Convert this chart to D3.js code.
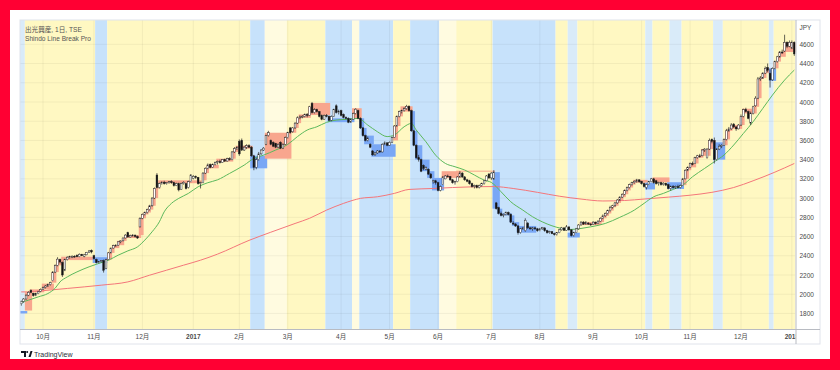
<!DOCTYPE html>
<html>
<head>
<meta charset="utf-8">
<script src="https://cdn.jsdelivr.net/npm/d3@7"></script>
<style>
html, body { margin: 0; padding: 0; background: #ff0033; }
svg { display: block; }
text { font-family: "Liberation Sans", Arial, sans-serif; }
</style>
</head>
<body>
<svg id="chart" width="840" height="370"></svg>
<script>
// daily candles, 出光興産 (TSE), Sep 2016 - Jan 2018, one entry per trading day
var opens = [
  1900,1925,1950,1990,2040,2010,1990,2005,2030,2050,
  2070,2085,2100,2140,2230,2300,2360,2330,2250,2360,
  2385,2385,2395,2405,2390,2415,2395,2410,2435,2455,
  2400,2360,2330,2340,2350,2270,2360,2430,2480,2505,
  2510,2545,2555,2585,2640,2595,2610,2615,2600,2700,
  2790,2830,2850,2880,2920,3000,3240,3110,3150,3165,
  3150,3160,3170,3160,3130,3150,3090,3150,3150,3110,
  3170,3205,3225,3215,3150,3160,3260,3310,3350,3320,
  3350,3370,3380,3370,3400,3385,3410,3400,3480,3515,
  3590,3600,3500,3530,3545,3530,3440,3320,3400,3460,
  3500,3560,3650,3600,3580,3570,3530,3580,3520,3560,
  3630,3730,3690,3730,3780,3835,3845,3850,3870,3860,
  3985,3890,3920,3900,3860,3820,3860,3850,3810,3850,
  3960,3890,3910,3870,3840,3830,3790,3820,3880,3910,
  3830,3730,3650,3600,3560,3490,3450,3470,3490,3480,
  3560,3575,3550,3580,3630,3750,3850,3900,3910,3930,
  3955,3910,3700,3550,3420,3400,3340,3300,3300,3250,
  3170,3180,3160,3080,3140,3200,3230,3225,3190,3160,
  3170,3220,3260,3220,3190,3180,3150,3120,3130,3110,
  3130,3150,3180,3250,3210,3200,2950,2900,2840,2820,
  2830,2850,2830,2740,2730,2710,2640,2680,2660,2740,
  2690,2680,2690,2680,2660,2680,2690,2660,2640,2650,
  2630,2620,2640,2670,2690,2665,2700,2670,2610,2640,
  2680,2720,2750,2730,2740,2730,2725,2750,2735,2760,
  2790,2815,2840,2870,2905,2920,2950,2980,3010,3040,
  3080,3110,3140,3160,3175,3190,3175,3150,3110,3140,
  3170,3200,3180,3150,3160,3140,3155,3140,3100,3120,
  3110,3120,3110,3130,3200,3290,3320,3360,3360,3420,
  3440,3440,3500,3420,3510,3610,3600,3400,3510,3540,
  3550,3610,3700,3720,3770,3740,3720,3760,3850,3920,
  3900,3780,3880,3960,4040,4240,4250,4300,4360,4300,
  4230,4350,4420,4470,4520,4530,4620,4580,4560,4620
];
var highs = [
  1935,1960,2000,2030,2050,2015,2015,2035,2060,2080,
  2095,2110,2130,2240,2310,2385,2370,2340,2370,2395,
  2400,2405,2405,2415,2425,2420,2420,2440,2460,2465,
  2410,2370,2345,2355,2360,2370,2440,2485,2515,2520,
  2550,2560,2590,2625,2650,2620,2625,2620,2610,2800,
  2840,2860,2890,2930,3010,3110,3260,3160,3175,3180,
  3165,3175,3185,3170,3160,3160,3160,3175,3160,3180,
  3250,3240,3235,3220,3170,3270,3320,3360,3360,3360,
  3380,3390,3400,3405,3410,3420,3425,3490,3530,3540,
  3610,3620,3545,3560,3560,3540,3450,3420,3480,3510,
  3530,3660,3700,3610,3590,3575,3570,3590,3570,3640,
  3690,3740,3740,3790,3850,3860,3865,3880,3885,3960,
  4000,3935,3930,3905,3870,3870,3875,3860,3860,3930,
  3975,3920,3920,3880,3850,3840,3830,3890,3935,3920,
  3840,3740,3660,3640,3570,3500,3480,3500,3500,3570,
  3590,3580,3590,3640,3760,3860,3910,3920,3945,3970,
  3965,3920,3710,3560,3450,3410,3350,3330,3310,3260,
  3190,3190,3170,3130,3230,3240,3245,3230,3200,3180,
  3230,3280,3270,3230,3200,3190,3160,3140,3140,3140,
  3160,3190,3240,3260,3270,3290,2960,2910,2860,2840,
  2860,2860,2840,2760,2740,2720,2690,2700,2790,2750,
  2700,2700,2700,2690,2690,2700,2695,2670,2660,2655,
  2640,2645,2680,2700,2695,2720,2705,2675,2650,2690,
  2730,2760,2760,2760,2750,2740,2760,2755,2770,2800,
  2830,2850,2880,2920,2930,2960,2990,3020,3050,3090,
  3120,3150,3170,3185,3200,3195,3180,3160,3150,3180,
  3210,3210,3190,3170,3170,3165,3160,3150,3130,3135,
  3130,3140,3140,3210,3300,3330,3370,3380,3430,3450,
  3460,3510,3520,3520,3620,3620,3630,3520,3560,3560,
  3620,3720,3740,3780,3780,3750,3770,3870,3930,3940,
  3910,3900,3960,4060,4260,4270,4310,4370,4400,4340,
  4360,4430,4480,4530,4545,4700,4630,4640,4640,4630
];
var lows = [
  1880,1910,1945,1980,2010,1975,1980,2000,2020,2045,
  2060,2075,2090,2135,2220,2290,2320,2180,2240,2350,
  2370,2375,2380,2385,2385,2395,2385,2405,2430,2425,
  2360,2320,2320,2330,2225,2260,2355,2425,2475,2495,
  2505,2530,2550,2580,2590,2590,2600,2590,2575,2695,
  2780,2820,2840,2870,2910,2990,3100,3100,3140,3140,
  3140,3150,3150,3120,3125,3070,3085,3140,3090,3100,
  3165,3195,3200,3140,3100,3155,3250,3300,3310,3315,
  3340,3350,3360,3365,3375,3380,3390,3395,3470,3500,
  3440,3490,3490,3510,3520,3430,3290,3300,3390,3450,
  3490,3550,3640,3550,3530,3520,3520,3510,3510,3555,
  3620,3670,3680,3720,3770,3820,3830,3840,3840,3855,
  3880,3880,3890,3840,3810,3815,3840,3800,3800,3845,
  3880,3870,3850,3830,3820,3780,3785,3815,3870,3820,
  3720,3640,3590,3590,3520,3440,3440,3460,3470,3475,
  3550,3540,3545,3575,3625,3745,3840,3880,3900,3920,
  3900,3690,3540,3410,3380,3270,3290,3290,3240,3200,
  3150,3140,3070,3070,3135,3195,3215,3180,3150,3140,
  3165,3215,3210,3180,3165,3140,3110,3100,3100,3100,
  3120,3140,3175,3200,3190,3190,2880,2830,2810,2800,
  2820,2820,2740,2720,2700,2620,2630,2670,2650,2680,
  2670,2660,2670,2650,2655,2670,2650,2630,2630,2625,
  2610,2610,2635,2660,2660,2660,2660,2600,2600,2635,
  2670,2715,2720,2725,2720,2710,2720,2725,2730,2755,
  2780,2805,2830,2860,2890,2910,2940,2970,3000,3030,
  3070,3100,3130,3150,3160,3160,3140,3110,3090,3135,
  3165,3150,3140,3130,3130,3130,3125,3090,3080,3100,
  3095,3100,3100,3125,3195,3280,3310,3340,3355,3410,
  3420,3435,3480,3410,3500,3570,3360,3390,3500,3520,
  3545,3600,3690,3710,3730,3700,3715,3750,3840,3890,
  3820,3760,3870,3950,4030,4220,4240,4290,4310,4150,
  4220,4340,4410,4460,4500,4520,4560,4570,4550,4480
];
var closes = [
  1925,1950,1990,2020,2020,1985,2005,2025,2050,2070,
  2085,2100,2120,2230,2300,2365,2335,2200,2360,2385,
  2390,2395,2390,2390,2415,2400,2410,2435,2450,2440,
  2370,2330,2340,2350,2250,2360,2430,2480,2505,2510,
  2545,2555,2585,2615,2595,2610,2615,2600,2585,2790,
  2830,2850,2880,2920,3000,3100,3110,3150,3165,3150,
  3160,3170,3160,3130,3150,3085,3150,3165,3100,3170,
  3240,3225,3215,3150,3160,3260,3310,3345,3320,3350,
  3370,3380,3370,3400,3385,3410,3400,3480,3515,3525,
  3460,3500,3530,3545,3530,3440,3320,3400,3460,3500,
  3520,3650,3680,3560,3540,3530,3560,3520,3560,3630,
  3680,3680,3730,3780,3835,3845,3850,3870,3860,3950,
  3890,3920,3900,3850,3820,3860,3850,3810,3850,3920,
  3890,3900,3860,3840,3830,3790,3820,3880,3925,3830,
  3730,3650,3600,3620,3530,3450,3470,3490,3480,3560,
  3575,3550,3580,3630,3750,3850,3900,3910,3930,3955,
  3910,3700,3550,3420,3400,3280,3310,3320,3250,3210,
  3180,3160,3080,3120,3220,3230,3225,3190,3160,3170,
  3220,3260,3220,3190,3175,3150,3120,3130,3110,3130,
  3150,3180,3230,3210,3260,3270,2890,2840,2820,2830,
  2850,2830,2750,2730,2710,2640,2680,2690,2770,2690,
  2680,2690,2680,2660,2680,2695,2660,2640,2650,2630,
  2620,2640,2670,2690,2665,2700,2670,2610,2640,2680,
  2720,2750,2730,2750,2730,2725,2750,2735,2760,2790,
  2815,2840,2870,2905,2920,2950,2980,3010,3040,3080,
  3110,3140,3160,3175,3190,3170,3150,3120,3140,3170,
  3200,3160,3150,3160,3140,3155,3135,3100,3120,3110,
  3120,3110,3130,3200,3290,3320,3360,3350,3420,3440,
  3430,3500,3510,3510,3600,3590,3400,3510,3540,3550,
  3610,3700,3720,3760,3740,3720,3760,3850,3920,3900,
  3830,3880,3950,4040,4240,4250,4300,4350,4330,4230,
  4350,4420,4470,4520,4510,4620,4580,4620,4620,4500
];

// moving averages: [candle index, value]
var maFast = [
  [0,1915],[3,1938],[7,1972],[11,2007],[14,2062],[16,2128],[19,2180],[23,2232],
  [28,2285],[32,2320],[36,2354],[40,2406],[44,2451],[48,2493],[51,2563],[54,2649],
  [57,2753],[59,2857],[62,2945],[65,2997],[69,3049],[73,3118],[77,3160],[81,3190],
  [86,3257],[92,3343],[96,3413],[100,3447],[105,3500],[110,3559],[114,3640],[118,3708],
  [122,3742],[126,3788],[130,3812],[134,3819],[139,3829],[143,3760],[147,3690],[151,3640],
  [154,3657],[158,3742],[161,3777],[163,3708],[167,3586],[171,3447],[175,3361],[179,3326],
  [183,3292],[187,3240],[191,3187],[194,3163],[198,3066],[202,2962],[207,2875],[211,2806],
  [215,2753],[219,2712],[223,2684],[227,2674],[231,2684],[235,2701],[241,2736],[247,2800],
  [253,2875],[257,2945],[261,3014],[265,3049],[269,3090],[273,3135],[277,3222],[282,3309],
  [286,3378],[290,3448],[294,3552],[298,3673],[302,3794],[306,3933],[310,4072],[315,4228],
  [319,4332]
];
var maSlow = [
  [0,2024],[4,2024],[7,2032],[19,2060],[33,2094],[44,2128],[53,2198],[60,2250],
  [67,2302],[74,2354],[81,2417],[94,2560],[103,2645],[113,2736],[119,2790],[126,2875],
  [133,2945],[140,2997],[147,3014],[154,3049],[160,3090],[170,3100],[178,3110],[187,3118],
  [195,3120],[203,3100],[213,3060],[222,3020],[231,2990],[240,2970],[249,2975],[257,2990],
  [267,3010],[276,3030],[285,3060],[294,3110],[302,3180],[311,3270],[319,3360]
];

// background state bands: [first index, last index, kind]
var bands = [
  [0,1,"L"],[2,30,"Y"],[31,35,"B"],[36,94,"Y"],[95,100,"B"],[101,109,"C"],
  [110,125,"Y"],[126,136,"B"],[137,139,"C"],[140,153,"B"],[154,160,"Y"],
  [161,172,"B"],[173,179,"C"],[180,194,"Y"],[195,220,"B"],[221,225,"Y"],
  [226,229,"L"],[230,257,"Y"],[258,260,"L"],[261,267,"Y"],[268,272,"L"],
  [273,285,"Y"],[286,289,"L"],[290,308,"Y"],[309,310,"L"],[311,319,"Y"]
];

// line break boxes: [first index, last index, low, high, direction]
var boxes = [
  [0,1,1800,1825,-1],[2,3,1830,2020,1],[4,8,2020,2050,1],[9,12,2050,2110,1],
  [13,13,2120,2230,1],[14,14,2230,2300,1],[15,16,2300,2365,1],[17,29,2355,2390,1],
  [30,34,2325,2385,-1],[35,35,2350,2360,1],[36,36,2360,2430,1],[37,37,2430,2480,1],
  [38,39,2480,2510,1],[40,41,2510,2555,1],[42,42,2555,2585,1],[43,48,2585,2615,1],
  [49,49,2615,2790,1],[50,50,2790,2830,1],[51,51,2830,2850,1],[52,52,2850,2880,1],
  [53,53,2880,2920,1],[54,54,2920,3000,1],[55,55,3000,3100,1],[56,56,3100,3110,1],
  [57,73,3155,3185,1],[75,75,3185,3260,1],[76,76,3260,3310,1],[77,80,3310,3345,1],
  [81,86,3380,3410,1],[87,87,3410,3480,1],[88,88,3480,3515,1],[89,94,3515,3545,1],
  [95,100,3310,3440,-1],[101,110,3410,3680,1],[112,112,3680,3730,1],[113,113,3730,3780,1],
  [114,114,3780,3835,1],[115,118,3835,3870,1],[119,119,3870,3950,1],[120,126,3865,3990,1],
  [127,136,3790,3830,-1],[137,139,3830,3935,1],[140,140,3730,3830,-1],[141,141,3650,3730,-1],
  [142,144,3560,3650,-1],[145,153,3430,3560,-1],[154,154,3600,3750,1],[155,155,3750,3850,1],
  [156,156,3850,3900,1],[157,160,3900,3955,1],[161,161,3700,3905,-1],[162,162,3550,3700,-1],
  [163,164,3400,3550,-1],[165,167,3280,3400,-1],[168,169,3210,3280,-1],[170,173,3080,3210,-1],
  [174,180,3210,3280,1],[195,196,2890,3270,-1],[197,197,2840,2890,-1],[198,201,2820,2840,-1],
  [202,202,2750,2820,-1],[203,204,2710,2750,-1],[205,211,2640,2710,-1],[226,229,2590,2640,-1],
  [231,238,2720,2750,1],[239,239,2750,2790,1],[240,240,2790,2815,1],[241,241,2815,2840,1],
  [242,242,2840,2870,1],[243,243,2870,2905,1],[244,244,2905,2920,1],[245,245,2920,2950,1],
  [246,246,2950,2980,1],[247,247,2980,3010,1],[248,248,3010,3040,1],[249,249,3040,3080,1],
  [250,250,3080,3110,1],[251,251,3110,3140,1],[252,252,3140,3160,1],[253,257,3160,3190,1],
  [258,260,3090,3160,-1],[261,266,3165,3215,1],[267,272,3095,3165,-1],[273,273,3135,3200,1],
  [274,274,3200,3290,1],[275,275,3290,3320,1],[276,277,3320,3360,1],[278,278,3360,3420,1],
  [279,280,3420,3440,1],[281,283,3440,3510,1],[284,285,3510,3600,1],[286,289,3400,3580,-1],
  [290,290,3550,3610,1],[291,291,3610,3700,1],[292,292,3700,3720,1],[293,296,3720,3760,1],
  [297,297,3760,3850,1],[298,301,3880,3930,1],[302,302,3880,3950,1],[303,303,3950,4040,1],
  [304,304,4040,4240,1],[305,305,4240,4250,1],[306,306,4250,4300,1],[307,308,4300,4350,1],
  [309,310,4220,4350,-1],[311,311,4350,4420,1],[312,312,4420,4470,1],[313,314,4470,4520,1],
  [315,319,4520,4620,1]
];
var boxLines = [[180,195,3280]];

var monthTicks = [9,30,50,71,90,110,132,152,172,194,214,236,256,276,297,318];
var monthLabels = ["10月","11月","12月","2017","2月","3月","4月","5月","6月","7月","8月","9月","10月","11月","12月","2018"];
var priceTicks = [1800,2000,2200,2400,2600,2800,3000,3200,3400,3600,3800,4000,4200,4400,4600];

var N = closes.length;
var W = 840, H = 370;
var plotL = 20, plotT = 20, plotR = 795.5, plotB = 329;
var bandColor = {Y: "#fff8c2", B: "#c7e2fb", L: "#d9ebf9", C: "#fffbe0"};

var svg = d3.select("#chart");
svg.append("rect").attr("width", W).attr("height", H).attr("fill", "#ff0033");
svg.append("rect").attr("x", 10).attr("y", 10).attr("width", 820).attr("height", 349).attr("fill", "#fff");

var x = d3.scaleBand().domain(d3.range(N)).range([plotL, plotR]).padding(0);
var y = d3.scaleLinear().domain([1638, 4853]).range([plotB, plotT]);
var bw = x.bandwidth();
var cx = function(i) { return x(i) + bw / 2; };

var defs = svg.append("defs");
defs.append("clipPath").attr("id", "plotclip")
  .append("rect").attr("x", plotL).attr("y", plotT).attr("width", plotR - plotL).attr("height", plotB - plotT);
defs.append("clipPath").attr("id", "xclip")
  .append("rect").attr("x", plotL).attr("y", plotB).attr("width", plotR - plotL).attr("height", 15);

var plot = svg.append("g").attr("clip-path", "url(#plotclip)");

plot.selectAll("rect.band").data(bands).enter().append("rect")
  .attr("class", "band")
  .attr("x", function(d) { return x(d[0]); })
  .attr("width", function(d) { return x(d[1]) + bw - x(d[0]); })
  .attr("y", plotT).attr("height", plotB - plotT)
  .attr("fill", function(d) { return bandColor[d[2]]; });

// grid
plot.selectAll("line.hgrid").data(priceTicks).enter().append("line")
  .attr("x1", plotL).attr("x2", plotR)
  .attr("y1", function(d) { return y(d); }).attr("y2", function(d) { return y(d); })
  .attr("stroke", "#000").attr("stroke-opacity", 0.05);
plot.selectAll("line.vgrid").data(monthTicks).enter().append("line")
  .attr("x1", cx).attr("x2", cx).attr("y1", plotT).attr("y2", plotB)
  .attr("stroke", "#000").attr("stroke-opacity", 0.05);

// each box reaches one bar past its last candle
plot.selectAll("rect.box").data(boxes).enter().append("rect")
  .attr("x", function(d) { return x(d[0]); })
  .attr("width", function(d) { return x(d[1]) + 2 * bw - x(d[0]); })
  .attr("y", function(d) { return y(d[3]); })
  .attr("height", function(d) { return y(d[2]) - y(d[3]); })
  .attr("fill", function(d) { return d[4] > 0 ? "#f8a68e" : "#79a7f5"; });

plot.selectAll("line.boxline").data(boxLines).enter().append("line")
  .attr("x1", function(d) { return x(d[0]); }).attr("x2", function(d) { return x(d[1]) + bw; })
  .attr("y1", function(d) { return y(d[2]); }).attr("y2", function(d) { return y(d[2]); })
  .attr("stroke", "#f8a68e").attr("stroke-width", 1);

var line = d3.line()
  .x(function(d) { return cx(d[0]); })
  .y(function(d) { return y(d[1]); })
  .curve(d3.curveMonotoneX);

plot.append("path").datum(maSlow).attr("d", line)
  .attr("fill", "none").attr("stroke", "#f4767a").attr("stroke-width", 1);
plot.append("path").datum(maFast).attr("d", line)
  .attr("fill", "none").attr("stroke", "#5cb85c").attr("stroke-width", 1);

var candles = plot.selectAll("g.candle").data(d3.range(N)).enter().append("g");
candles.append("line")
  .attr("x1", cx).attr("x2", cx)
  .attr("y1", function(i) { return y(highs[i]); })
  .attr("y2", function(i) { return y(lows[i]); })
  .attr("stroke", "#222").attr("stroke-width", 0.7);
candles.append("rect")
  .attr("x", function(i) { return cx(i) - bw * 0.36; })
  .attr("width", bw * 0.72)
  .attr("y", function(i) { return y(Math.max(opens[i], closes[i])); })
  .attr("height", function(i) { return Math.max(0.8, Math.abs(y(opens[i]) - y(closes[i]))); })
  .attr("fill", function(i) { return closes[i] >= opens[i] ? "#fff" : "#111"; })
  .attr("stroke", "#222").attr("stroke-width", 0.45);

// frame and axes lines
svg.append("rect").attr("x", plotL).attr("y", plotT).attr("width", 800).attr("height", 324)
  .attr("fill", "none").attr("stroke", "#e0e3eb").attr("stroke-width", 1);
svg.append("line").attr("x1", plotL).attr("x2", 820).attr("y1", plotB + 0.5).attr("y2", plotB + 0.5)
  .attr("stroke", "#b8bbc2");
svg.append("line").attr("x1", plotR + 0.5).attr("x2", plotR + 0.5).attr("y1", plotT).attr("y2", 344)
  .attr("stroke", "#b8bbc2");

var yAxis = svg.append("g").attr("transform", "translate(" + (plotR + 0.5) + ",0)")
  .call(d3.axisRight(y).tickValues(priceTicks).tickFormat(d3.format("d"))
    .tickSize(0).tickPadding(3.5));
yAxis.select(".domain").remove();
yAxis.selectAll("text").attr("font-size", 6.5).attr("fill", "#4a4a4a")
  .style("font-family", "'Liberation Sans', Arial, sans-serif");

svg.append("text").attr("x", plotR + 4).attr("y", 29.5).attr("font-size", 6.5)
  .attr("fill", "#4a4a4a").text("JPY");

var xAxis = svg.append("g").attr("clip-path", "url(#xclip)")
  .append("g").attr("transform", "translate(0," + plotB + ")")
  .call(d3.axisBottom(x).tickValues(monthTicks)
    .tickFormat(function(d, k) { return monthLabels[k]; })
    .tickSize(0).tickPadding(5.5));
xAxis.select(".domain").remove();
xAxis.selectAll("text").attr("font-size", 6.5).attr("fill", "#4a4a4a")
  .style("font-family", "'Liberation Sans', 'Noto Sans CJK JP', sans-serif")
  .attr("font-weight", function(d, k) { return /^\d{4}$/.test(monthLabels[k]) ? "bold" : "normal"; });

// legend
svg.append("text").attr("x", 25).attr("y", 32).attr("font-size", 6.6).attr("fill", "#555")
  .style("font-family", "'Liberation Sans', 'Noto Sans CJK JP', sans-serif")
  .text("出光興産, 1日, TSE");
svg.append("text").attr("x", 25).attr("y", 41).attr("font-size", 6.6).attr("fill", "#555")
  .text("Shindo Line Break Pro");

// TradingView mark
var logo = svg.append("g").attr("transform", "translate(21,351)").attr("fill", "#131722");
logo.append("path").attr("d", "M0 0 H5 V6 H3 V2 H0 Z");
logo.append("circle").attr("cx", 6.2).attr("cy", 1).attr("r", 1);
logo.append("path").attr("d", "M7.5 6 L9.5 0 H11.5 L9.6 6 Z");
svg.append("text").attr("x", 34).attr("y", 357).attr("font-size", 7).attr("fill", "#2a2e39")
  .text("TradingView");
</script>
</body>
</html>
